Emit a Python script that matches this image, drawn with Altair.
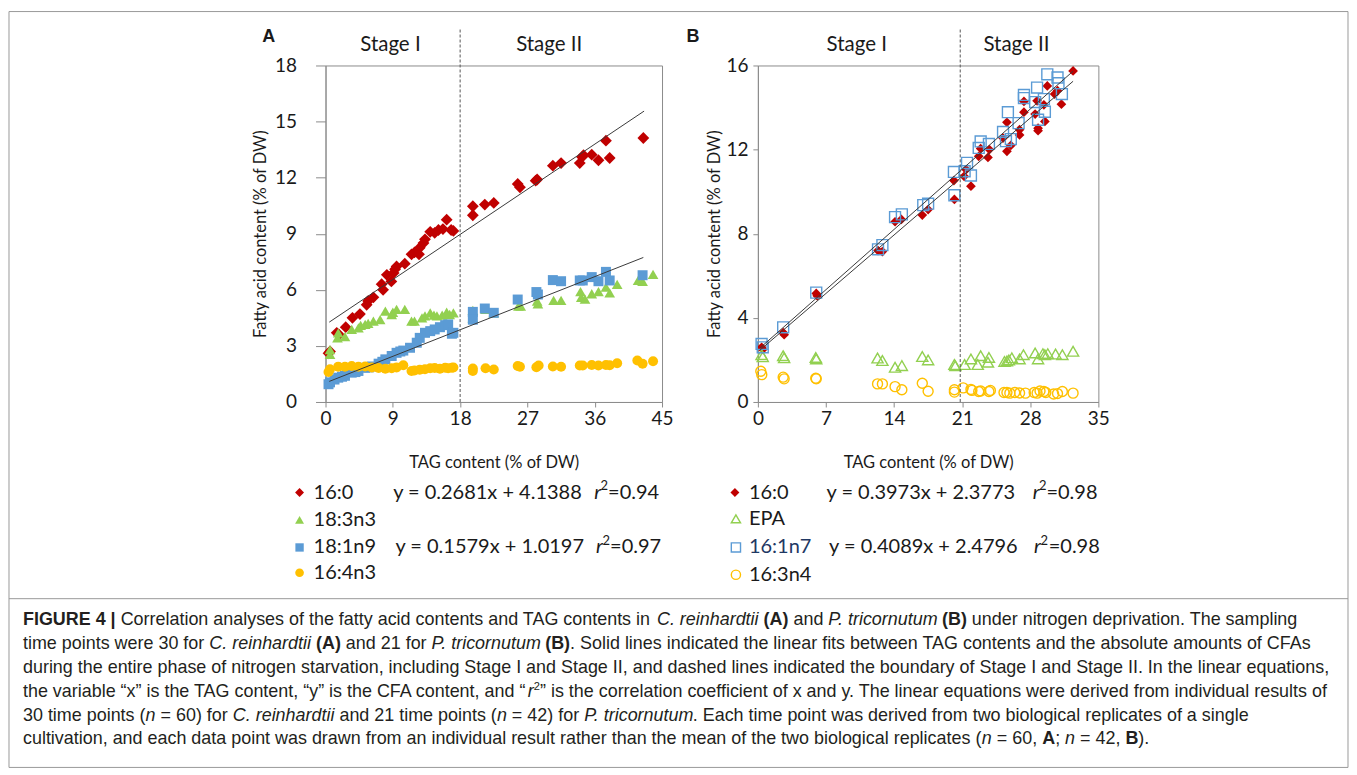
import altair as alt
import pandas as pd

# ---------------- data ----------------
# Panel A: C. reinhardtii
A_x_160 = [0.4, 0.6, 1.5, 1.8, 2.7, 3.6, 4.6, 5.5, 5.7, 6.4, 7.5, 7.7, 8.2, 8.8, 9.1, 9.3, 9.5, 10.6, 11.5, 11.9,
           12.5, 12.6, 13.1, 13.3, 14.0, 14.6, 15.1, 15.7, 16.2, 16.8, 17.1,
           19.7, 19.7, 21.3, 22.5, 25.7, 26.0, 28.1, 28.3, 30.4, 31.5, 34.0, 34.3, 34.5, 35.6, 36.5, 37.5, 38.0, 42.5]
A_y_160 = [2.6, 2.7, 3.7, 3.6, 4.0, 4.5, 4.7, 5.2, 5.4, 5.6, 6.3, 6.0, 6.8, 6.45, 6.9, 7.1, 7.25, 7.4, 7.9, 8.0,
           7.9, 8.25, 8.5, 8.7, 9.1, 9.05, 9.2, 9.25, 9.75, 9.2, 9.15,
           10.47, 9.99, 10.56, 10.65, 11.66, 11.48, 11.84, 11.9, 12.64, 12.78, 12.78, 13.1, 13.2, 13.23, 12.93, 13.98, 13.05, 14.12]

A_x_183 = [0.6, 0.6, 1.6, 1.7, 2.6, 3.5, 4.4, 4.7, 5.3, 5.7, 6.4, 7.3, 8.0, 8.85, 9.0, 9.5, 10.6, 11.5, 11.9, 12.9,
           13.3, 14.0, 14.5, 14.9, 15.6, 16.2, 16.6, 17.1,
           19.7, 19.7, 21.4, 22.5, 25.8, 26.1, 28.3, 28.4, 30.5, 31.5, 34.1, 34.2, 34.7, 35.6, 36.5, 37.5, 38.0, 39.0, 41.8, 42.4, 43.8]
A_y_183 = [2.8, 2.55, 3.43, 3.7, 3.5, 3.88, 3.97, 4.1, 4.15, 4.2, 4.33, 4.4, 4.86, 4.68, 4.8, 4.95, 4.95, 4.33, 4.33, 4.5,
           4.6, 4.77, 4.65, 4.6, 4.65, 4.8, 4.68, 4.77,
           4.9, 4.5, 4.95, 4.77, 5.13, 5.13, 5.4, 5.25, 5.43, 5.43, 5.9, 5.6, 5.5, 5.79, 5.9, 6.14, 5.84, 6.29, 6.5, 6.45, 6.82]

A_x_181 = [0.4, 0.6, 1.2, 1.7, 2.2, 2.6, 3.5, 4.0, 4.4, 5.3, 5.8, 6.2, 7.1, 7.6, 8.0, 8.85, 9.5, 10.0, 10.4, 11.3,
           12.2, 12.6, 13.3, 14.0, 14.6, 15.3, 16.0, 16.4, 16.9, 17.1,
           19.7, 19.7, 21.3, 22.5, 25.7, 28.2, 28.4, 30.4, 31.5, 34.0, 34.4, 35.6, 36.5, 37.5, 38.0, 42.4]
A_y_181 = [0.95, 1.05, 1.2, 1.3, 1.35, 1.4, 1.57, 1.6, 1.66, 1.83, 1.85, 1.9, 2.05, 2.15, 2.28, 2.46, 2.63, 2.7, 2.75, 2.9,
           3.17, 3.43, 3.7, 3.79, 3.88, 4.0, 4.11, 4.15, 3.65, 3.7,
           4.82, 4.4, 5.0, 4.77, 5.48, 5.88, 5.75, 6.52, 6.46, 6.5, 6.5, 6.68, 6.46, 6.96, 6.5, 6.78]

A_x_164 = [0.4, 0.6, 1.7, 2.6, 3.5, 4.4, 5.3, 6.2, 7.1, 8.0, 8.85, 9.5, 10.4, 11.5, 11.9, 12.6, 13.3, 14.0, 14.6, 15.3,
           16.0, 16.4, 16.9, 17.1,
           19.7, 19.7, 21.4, 22.5, 25.7, 26.0, 28.2, 28.5, 30.4, 31.5, 34.0, 34.4, 35.6, 36.5, 37.5, 38.0, 39.0, 41.7, 42.4, 43.8]
A_y_164 = [1.6, 1.75, 1.89, 1.88, 1.92, 1.88, 1.9, 1.85, 1.82, 1.78, 1.8, 1.85, 1.96, 1.66, 1.68, 1.72, 1.75, 1.8, 1.82, 1.78,
           1.83, 1.8, 1.83, 1.84,
           1.79, 1.66, 1.8, 1.74, 1.92, 1.88, 1.86, 1.95, 1.9, 1.88, 1.95, 1.95, 1.98, 1.95, 1.98, 1.96, 2.07, 2.22, 2.05, 2.18]

A_fit160_x = [0.5, 42.6]
A_fit160_y = [4.27, 15.56]
A_fit181_x = [0.5, 42.5]
A_fit181_y = [1.10, 7.73]
A_boundary = 18

# Panel B: P. tricornutum
B_x_160 = [0.38, 0.5, 2.6, 2.7, 6.0, 6.1, 12.35, 12.8, 14.1, 14.75, 16.9, 17.5, 20.2, 20.15, 21.2, 21.4, 21.9, 22.7, 22.9, 23.65,
           23.8, 25.2, 25.6, 25.6, 26.0, 26.9, 26.9, 27.35, 27.35, 28.5, 28.7, 28.8, 28.8, 29.4, 29.5, 29.75, 30.5, 30.8, 31.2, 32.4]
B_y_160 = [2.6, 2.5, 3.3, 3.2, 5.16, 5.05, 7.2, 7.15, 8.57, 8.68, 8.89, 9.15, 9.63, 10.53, 10.73, 11.05, 10.26, 11.68, 12.05, 11.63,
           12.0, 12.55, 11.92, 13.3, 12.2, 12.95, 12.7, 13.78, 14.29, 13.69, 14.32, 13.02, 12.9, 14.13, 13.34, 15.03, 14.64, 14.8, 14.16, 15.74]

B_x_epa = [0.38, 0.5, 2.6, 2.7, 5.95, 6.0, 12.3, 12.8, 14.1, 14.8, 16.9, 17.5, 20.2, 20.3, 21.25, 21.9, 22.6, 22.9, 23.65, 23.75,
           25.35, 25.6, 25.8, 26.1, 26.9, 27.3, 28.5, 28.8, 29.3, 29.5, 29.8, 30.6, 31.3, 32.4]
B_y_epa = [2.25, 2.15, 2.2, 2.1, 2.12, 2.05, 2.09, 1.97, 1.65, 1.73, 2.16, 2.0, 1.78, 1.72, 1.78, 2.05, 1.78, 2.2, 1.89, 2.12,
           1.93, 1.95, 2.0, 2.1, 2.05, 2.25, 2.33, 2.05, 2.3, 2.25, 2.3, 2.28, 2.25, 2.41]

B_x_161 = [0.38, 0.5, 2.6, 6.0, 12.35, 12.8, 14.1, 14.8, 17.0, 17.5, 20.2, 20.15, 21.25, 21.5, 21.9, 22.7, 22.9, 23.75, 25.2, 25.5,
           25.7, 26.0, 26.8, 27.35, 27.35, 28.5, 28.7, 28.8, 29.4, 29.5, 29.75, 30.8, 30.9, 31.25]
B_y_161 = [2.76, 2.6, 3.55, 5.2, 7.26, 7.46, 8.79, 8.92, 9.36, 9.43, 9.83, 10.94, 10.97, 11.37, 10.77, 12.08, 12.39, 12.27, 12.84, 12.4,
           13.78, 12.5, 13.26, 14.6, 14.45, 14.26, 14.95, 13.42, 14.4, 13.8, 15.58, 15.43, 15.16, 14.64]

B_x_163 = [0.3, 0.4, 2.6, 2.7, 5.95, 6.0, 12.3, 12.8, 14.1, 14.8, 16.9, 17.5, 20.2, 20.2, 21.1, 21.9, 22.0, 22.7, 22.9, 23.75,
           23.9, 25.3, 25.6, 25.9, 26.4, 26.9, 27.5, 28.4, 28.7, 29.0, 29.4, 29.6, 30.4, 30.8, 31.3, 32.4]
B_y_163 = [1.46, 1.3, 1.18, 1.1, 1.13, 1.1, 0.86, 0.86, 0.73, 0.58, 0.89, 0.51, 0.58, 0.47, 0.67, 0.6, 0.55, 0.5, 0.52, 0.5,
           0.55, 0.45, 0.45, 0.42, 0.45, 0.43, 0.42, 0.45, 0.42, 0.52, 0.5, 0.45, 0.38, 0.4, 0.5, 0.42]

B_fit160_x = [0.2, 32.4]
B_fit160_y = [2.46, 15.25]
B_fit161_x = [0.2, 32.4]
B_fit161_y = [2.56, 15.73]
B_boundary = 20.8

A_xticks = [0, 9, 18, 27, 36, 45]
A_yticks = [0, 3, 6, 9, 12, 15, 18]
B_xticks = [0, 7, 14, 21, 28, 35]
B_yticks = [0, 4, 8, 12, 16]

RED, GREEN, BLUE, GOLD = "#C00000", "#92D050", "#5B9BD5", "#FFC000"
NAVY = "#1F3864"
INK = "#1a1a1a"
FONT = "Lato"
CAPFONT = "Liberation Sans"

# page-coordinate anchors of the two plot areas
AX0, AY0, AW, AH = 325, 64, 337, 337
BX0, BY0, BW, BH = 758, 64, 341, 337

dummy = pd.DataFrame({"k": [0]})


def txt(text, px, py, ox, oy, size=20, font=FONT, weight="normal", style="normal",
        color=INK, align="left", baseline="middle", angle=None):
    kw = dict(text=text, fontSize=size, font=font, fontWeight=weight, fontStyle=style,
              color=color, align=align, baseline=baseline)
    if angle is not None:
        kw["angle"] = angle
    return alt.Chart(dummy).mark_text(**kw).encode(x=alt.value(px - ox), y=alt.value(py - oy))


def sym(px, py, ox, oy, shape, color, filled, size):
    return alt.Chart(dummy).mark_point(shape=shape, color=color, filled=filled, size=size,
                                       opacity=1, strokeWidth=1.4).encode(
        x=alt.value(px - ox), y=alt.value(py - oy))


def axis_x(values, title):
    return alt.Axis(values=values, title=title, grid=False, tickSize=5, labelPadding=3,
                    labelFlush=False, labelOverlap=False, titlePadding=26)


def points(xs, ys, X, Y, shape, color, filled, size):
    df = pd.DataFrame({"x": xs, "y": ys})
    return alt.Chart(df).mark_point(shape=shape, color=color, filled=filled, size=size,
                                    opacity=1, strokeWidth=1.4).encode(x=X, y=Y)


def fitline(xs, ys, X, Y):
    df = pd.DataFrame({"x": xs, "y": ys})
    return alt.Chart(df).mark_line(color="#3a3a3a", strokeWidth=1).encode(x=X, y=Y)


# ---------------- panel A ----------------
XA = alt.X("x:Q", scale=alt.Scale(domain=[0, 45], nice=False, zero=False),
           axis=axis_x(A_xticks, "TAG content (% of DW)"))
YA = alt.Y("y:Q", scale=alt.Scale(domain=[0, 18], nice=False, zero=False),
           axis=alt.Axis(values=A_yticks, title="Fatty acid content (% of DW)", grid=False,
                         tickSize=10, labelPadding=19, titlePadding=6))

layersA = [
    points(A_x_160, A_y_160, XA, YA, "diamond", RED, True, 140),
    points(A_x_183, A_y_183, XA, YA, "triangle-up", GREEN, True, 115),
    points(A_x_181, A_y_181, XA, YA, "square", BLUE, True, 100),
    points(A_x_164, A_y_164, XA, YA, "circle", GOLD, True, 100),
    fitline(A_fit160_x, A_fit160_y, XA, YA),
    fitline(A_fit181_x, A_fit181_y, XA, YA),
    alt.Chart(dummy).mark_rule(color="#555", strokeDash=[3, 2], strokeWidth=1).encode(
        x=alt.X(datum=A_boundary, scale=alt.Scale(domain=[0, 45], nice=False, zero=False)),
        y=alt.value(28 - AY0), y2=alt.value(AH)),
    txt("A", 268, 35, AX0, AY0, size=18, font=CAPFONT, weight="bold", align="center"),
    txt("Stage I", 390, 43, AX0, AY0, size=20.5, align="center"),
    txt("Stage II", 549, 43, AX0, AY0, size=20.5, align="center"),
    # legend A
    sym(299, 491.7, AX0, AY0, "diamond", RED, True, 80),
    txt("16:0", 313, 491.7, AX0, AY0),
    txt("y = 0.2681x + 4.1388", 392.7, 491.7, AX0, AY0),
    txt("r", 594, 491.7, AX0, AY0, style="italic"),
    txt("2", 600.5, 485, AX0, AY0, size=13),
    txt("=0.94", 608, 491.7, AX0, AY0),
    sym(299, 519, AX0, AY0, "triangle-up", GREEN, True, 80),
    txt("18:3n3", 313, 519, AX0, AY0),
    sym(299, 546.7, AX0, AY0, "square", BLUE, True, 70),
    txt("18:1n9", 313, 546.7, AX0, AY0),
    txt("y = 0.1579x + 1.0197", 395, 546.7, AX0, AY0),
    txt("r", 596, 546.7, AX0, AY0, style="italic"),
    txt("2", 602.5, 540, AX0, AY0, size=13),
    txt("=0.97", 610, 546.7, AX0, AY0),
    sym(299, 572, AX0, AY0, "circle", GOLD, True, 75),
    txt("16:4n3", 313, 572, AX0, AY0),
    # outer frame and caption box
    alt.Chart(dummy).mark_rect(fill="white", fillOpacity=0, stroke="#9a9a9a", strokeWidth=1).encode(
        x=alt.value(8 - AX0), x2=alt.value(1349 - AX0), y=alt.value(10 - AY0), y2=alt.value(767 - AY0)),
    alt.Chart(dummy).mark_rule(color="#9a9a9a", strokeWidth=1).encode(
        x=alt.value(8 - AX0), x2=alt.value(1349 - AX0), y=alt.value(598 - AY0)),
]

# ---------------- caption ----------------
REG = dict.fromkeys("abdeghnopqu0123456789", 556)
REG.update(dict.fromkeys("ckszvxy", 500))
REG.update({"f": 278, "t": 278, "i": 222, "j": 222, "l": 222, "m": 833, "r": 333, "w": 722,
            " ": 278, ".": 278, ",": 278, ";": 278, ":": 278, "(": 333, ")": 333, "=": 584,
            "-": 333, "\u201c": 333, "\u201d": 333, "|": 260, "%": 889,
            "A": 667, "B": 667, "C": 722, "D": 722, "E": 667, "F": 611, "G": 778, "I": 278,
            "P": 667, "S": 667, "T": 611, "W": 944})
BOLD = {"F": 611, "I": 278, "G": 778, "U": 722, "R": 722, "E": 667, " ": 278, "4": 556,
        "|": 280, "(": 333, ")": 333, "A": 722, "B": 722}
# small per-word corrections for the italic face
ITAL_ADJ = {"P. tricornutum": -3.0, "r": -1.5}


def wem(s, st):
    tab = BOLD if st == "b" else REG
    return sum(tab.get(c, 556) for c in s) / 1000.0


cap_lines = [
    [("FIGURE 4 |", "b"), (" Correlation analyses of the fatty acid contents and TAG contents in ", "n"),
     ("C. reinhardtii", "i"), (" ", "n"), ("(A)", "b"), (" and ", "n"), ("P. tricornutum", "i"), (" ", "n"),
     ("(B)", "b"), (" under nitrogen deprivation. The sampling", "n")],
    [("time points were 30 for ", "n"), ("C. reinhardtii", "i"), (" ", "n"), ("(A)", "b"), (" and 21 for ", "n"),
     ("P. tricornutum", "i"), (" ", "n"), ("(B)", "b"),
     (". Solid lines indicated the linear fits between TAG contents and the absolute amounts of CFAs", "n")],
    [("during the entire phase of nitrogen starvation, including Stage I and Stage II, and dashed lines "
      "indicated the boundary of Stage I and Stage II. In the linear equations,", "n")],
    [("the variable \u201cx\u201d is the TAG content, \u201cy\u201d is the CFA content, and \u201c", "n"), ("r", "i"),
     ("2", "sup"),
     ("\u201d is the correlation coefficient of x and y. The linear equations were derived from individual results of", "n")],
    [("30 time points (", "n"), ("n", "i"), (" = 60) for ", "n"), ("C. reinhardtii", "i"), (" and 21 time points (", "n"),
     ("n", "i"), (" = 42) for ", "n"), ("P. tricornutum", "i"),
     (". Each time point was derived from two biological replicates of a single", "n")],
    [("cultivation, and each data point was drawn from an individual result rather than the mean of the two "
      "biological replicates (", "n"), ("n", "i"), (" = 60, ", "n"), ("A", "b"), ("; ", "n"), ("n", "i"),
     (" = 42, ", "n"), ("B", "b"), (").", "n")],
]
cap_y = [619, 643, 667, 691, 715, 739]
cap_x0 = 22
line1_em = sum(wem(s, st) for s, st in cap_lines[0])
CAP_FS = round((1302 - cap_x0) / line1_em, 2)

cap_layers = []
for segs, yy in zip(cap_lines, cap_y):
    xx = cap_x0
    for s, st in segs:
        if st == "sup":
            fs = CAP_FS * 0.62
            cap_layers.append(txt(s, xx, yy - 5, AX0, AY0, size=fs, font=CAPFONT, color="#231F20"))
            xx += wem(s, "n") * fs
            continue
        lead = len(s) - len(s.lstrip(" "))
        xx_draw = xx + lead * 0.278 * CAP_FS
        body = s.strip(" ")
        adj = ITAL_ADJ.get(s, 0.0) if st == "i" else 0.0
        if st == "i" and s == "r":
            xx_draw += adj
        if body:
            cap_layers.append(txt(body, xx_draw, yy, AX0, AY0, size=CAP_FS, font=CAPFONT,
                                  weight="bold" if st == "b" else "normal",
                                  style="italic" if st == "i" else "normal", color="#231F20"))
        xx += wem(s, st) * CAP_FS + adj

panelA = alt.layer(*(layersA + cap_layers)).properties(width=AW, height=AH)

# ---------------- panel B ----------------
XB = alt.X("x:Q", scale=alt.Scale(domain=[0, 35], nice=False, zero=False),
           axis=axis_x(B_xticks, "TAG content (% of DW)"))
YB = alt.Y("y:Q", scale=alt.Scale(domain=[0, 16], nice=False, zero=False),
           axis=alt.Axis(values=B_yticks, title="Fatty acid content (% of DW)", grid=False,
                         tickSize=5, labelPadding=5, titlePadding=3))

layersB = [
    points(B_x_160, B_y_160, XB, YB, "diamond", RED, True, 95),
    points(B_x_epa, B_y_epa, XB, YB, "triangle-up", GREEN, False, 125),
    points(B_x_161, B_y_161, XB, YB, "square", BLUE, False, 120),
    points(B_x_163, B_y_163, XB, YB, "circle", GOLD, False, 100),
    fitline(B_fit160_x, B_fit160_y, XB, YB),
    fitline(B_fit161_x, B_fit161_y, XB, YB),
    alt.Chart(dummy).mark_rule(color="#555", strokeDash=[3, 2], strokeWidth=1).encode(
        x=alt.X(datum=B_boundary, scale=alt.Scale(domain=[0, 35], nice=False, zero=False)),
        y=alt.value(28 - BY0), y2=alt.value(BH)),
    txt("B", 693, 35, BX0, BY0, size=18, font=CAPFONT, weight="bold", align="center"),
    txt("Stage I", 857, 43, BX0, BY0, size=20.5, align="center"),
    txt("Stage II", 1017, 43, BX0, BY0, size=20.5, align="center"),
    # legend B
    sym(735, 491.7, BX0, BY0, "diamond", RED, True, 80),
    txt("16:0", 749, 491.7, BX0, BY0),
    txt("y = 0.3973x + 2.3773", 826.7, 491.7, BX0, BY0),
    txt("r", 1033.3, 491.7, BX0, BY0, style="italic"),
    txt("2", 1039.5, 485, BX0, BY0, size=13),
    txt("=0.98", 1047, 491.7, BX0, BY0),
    sym(736, 518, BX0, BY0, "triangle-up", GREEN, False, 85),
    txt("EPA", 749, 518, BX0, BY0),
    sym(736, 546.7, BX0, BY0, "square", BLUE, False, 85),
    txt("16:1n7", 749, 546.7, BX0, BY0, color=NAVY),
    txt("y = 0.4089x + 2.4796", 829.3, 546.7, BX0, BY0),
    txt("r", 1034.5, 546.7, BX0, BY0, style="italic"),
    txt("2", 1041, 540, BX0, BY0, size=13),
    txt("=0.98", 1049.3, 546.7, BX0, BY0),
    sym(736, 574, BX0, BY0, "circle", GOLD, False, 85),
    txt("16:3n4", 749, 574, BX0, BY0),
]
panelB = alt.layer(*layersB).properties(width=BW, height=BH)

chart = alt.hconcat(panelA, panelB, spacing=BX0 - (AX0 + AW), bounds="flush").properties(
    padding={"left": 0, "top": 2, "right": 0, "bottom": 0},
    background="white",
).configure_view(stroke="#8c8c8c", strokeWidth=1).configure_axis(
    domainColor="#8c8c8c", tickColor="#8c8c8c", labelColor=INK, titleColor=INK,
    labelFont=FONT, titleFont=FONT, labelFontSize=19, titleFontSize=16.5, titleFontWeight="normal"
)

chart.save("out.html", embed_options={"renderer": "svg", "actions": False})
